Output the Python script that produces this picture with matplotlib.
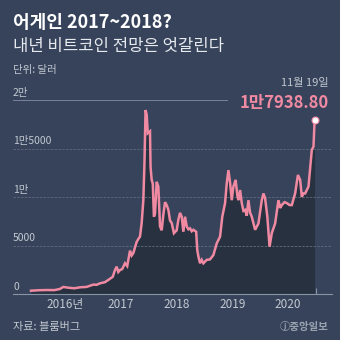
import numpy as np
import matplotlib.pyplot as plt

plt.rcParams['font.family'] = ['Noto Sans CJK KR', 'DejaVu Sans']

# x = position in years as drawn on the chart, y = price in dollars
years = [2015.88, 2016.02, 2016.16, 2016.30, 2016.40, 2016.46, 2016.55, 2016.66,
         2016.76, 2016.88, 2017.00, 2017.06, 2017.12, 2017.21, 2017.30, 2017.35,
         2017.39, 2017.42, 2017.45, 2017.48, 2017.52, 2017.57, 2017.61, 2017.66,
         2017.69, 2017.72, 2017.78, 2017.81, 2017.84, 2017.87, 2017.90, 2017.92,
         2017.94, 2017.96, 2017.98, 2018.02, 2018.03, 2018.05, 2018.07, 2018.09,
         2018.11, 2018.14, 2018.17, 2018.20, 2018.23, 2018.26, 2018.29, 2018.32,
         2018.35, 2018.38, 2018.41, 2018.45, 2018.50, 2018.53, 2018.56, 2018.59,
         2018.62, 2018.65, 2018.68, 2018.71, 2018.74, 2018.77, 2018.80, 2018.85,
         2018.87, 2018.89, 2018.92, 2018.95, 2018.98, 2019.04, 2019.10, 2019.16,
         2019.22, 2019.28, 2019.32, 2019.37, 2019.40, 2019.43, 2019.46, 2019.49,
         2019.52, 2019.56, 2019.59, 2019.61, 2019.64, 2019.67, 2019.70, 2019.73,
         2019.76, 2019.79, 2019.82, 2019.85, 2019.91, 2019.97, 2020.03, 2020.06,
         2020.09, 2020.13, 2020.17, 2020.21, 2020.27, 2020.33, 2020.36, 2020.39,
         2020.44, 2020.48, 2020.53, 2020.57, 2020.63, 2020.68, 2020.72, 2020.75,
         2020.78, 2020.81, 2020.87, 2020.90, 2020.93, 2020.96, 2020.98]
price = [370, 420, 440, 430, 550, 760, 680, 620,
         720, 760, 1000, 980, 1130, 1250, 1600, 1800,
         2500, 2850, 2300, 2500, 2600, 3200, 2900, 4500,
         4000, 4250, 5400, 5700, 5950, 7350, 9700, 13500,
         19000, 18500, 16600, 16800, 13100, 11800, 11400, 8000,
         8300, 11600, 11100, 7000, 6600, 8200, 9500, 9200,
         8700, 7600, 7350, 6300, 6600, 7700, 8400, 8000,
         6450, 8000, 7000, 6700, 6800, 6500, 6650, 6450,
         4550, 3900, 3200, 3550, 3200, 3550, 3600, 4050,
         5250, 5950, 8000, 9400, 11450, 12800, 11500, 9700,
         11100, 11800, 10200, 9700, 10750, 9400, 8600, 8700,
         8100, 9700, 8400, 8000, 6650, 7300, 9700, 10400,
         9900, 8000, 4900, 6300, 7300, 9700, 8900, 9200,
         9500, 9400, 9200, 9200, 10400, 12300, 11800, 10050,
         10400, 10400, 11100, 13000, 14900, 15200, 17938.8]

year_ticks = [2017, 2018, 2019, 2020, 2021]
label_pos = [2016.5, 2017.5, 2018.5, 2019.5, 2020.5]
label_txt = ['2016년', '2017', '2018', '2019', '2020']
y_ticks = [0, 5000, 10000, 15000, 20000]
y_txt = ['0', '5000', '1만', '1만5000', '2만']

bg = '#36435a'
fill_c = '#28313f'
pink = '#f08aa3'
grey_txt = '#c3c9d2'
grid_c = '#5f6b7e'

fig = plt.figure(figsize=(3.4, 3.4), dpi=100, facecolor=bg)
ax = fig.add_axes([13 / 340, 1 - 294.3 / 340, 319 / 340, 194 / 340])
ax.set_facecolor(bg)

ax.fill_between(years, price, 0, color=fill_c, lw=0, zorder=2)
ax.plot(years, price, color=pink, lw=1.8, zorder=4, solid_joinstyle='miter')
ax.plot(years[-1], price[-1], 'o', ms=5, mfc='white', mec=pink, mew=0.8, zorder=5, clip_on=False)

ax.set_xlim(2015.556, 2021.293)
ax.set_ylim(0, 20000)

# gridlines + labels
for v, t in zip(y_ticks, y_txt):
    if v == 0:
        pass
    elif v == 20000:
        ax.plot([0, 0.67], [v, v], transform=ax.get_yaxis_transform(), color='#76839a',
                lw=0.7, zorder=1, clip_on=False)
    else:
        ax.axhline(v, color=grid_c, lw=0.6, ls=(0, (3, 1.5)), zorder=3)
    ax.annotate(t, (0, v), xycoords=ax.get_yaxis_transform(), xytext=(0, 2),
                textcoords='offset points', ha='left', va='bottom', fontsize=7.5,
                color=grey_txt)

for s in ['top', 'right', 'left']:
    ax.spines[s].set_visible(False)
ax.spines['bottom'].set_color('#8893a4')
ax.spines['bottom'].set_linewidth(0.8)
ax.spines['bottom'].set_zorder(6)

ax.set_yticks([])
ax.set_xticks(year_ticks)
ax.set_xticklabels([])
ax.tick_params(axis='x', which='major', direction='in', length=4, width=0.8, color='#8893a4')
ax.set_xticks(label_pos, minor=True)
ax.set_xticklabels(label_txt, minor=True)
ax.tick_params(axis='x', which='minor', length=0, pad=3, labelsize=8.5, labelcolor=grey_txt)

# header texts
fig.text(13 / 340, 1 - 23 / 340, '어게인 2017~2018?', fontsize=13, fontweight='bold',
         color='white', va='center', ha='left')
fig.text(13 / 340, 1 - 47 / 340, '내년 비트코인 전망은 엇갈린다', fontsize=12,
         color='#e6e9ee', va='center', ha='left')
fig.text(13 / 340, 1 - 70 / 340, '단위: 달러', fontsize=7.5, color=grey_txt, va='center', ha='left')
fig.text(329 / 340, 1 - 83 / 340, '11월 19일', fontsize=8, color=grey_txt, va='center', ha='right')
fig.text(329 / 340, 1 - 103 / 340, '1만7938.80', fontsize=12, color=pink, fontweight='bold',
         va='center', ha='right')

# footer
fig.text(13 / 340, 1 - 327 / 340, '자료: 블룸버그', fontsize=8, color=grey_txt, va='center', ha='left')
fig.text(329 / 340, 1 - 327 / 340, 'ⓙ중앙일보', fontsize=7.5, color='#9aa3b0', va='center',
         ha='right', fontweight='bold')

fig.savefig('out.png', dpi=100, facecolor=bg)
